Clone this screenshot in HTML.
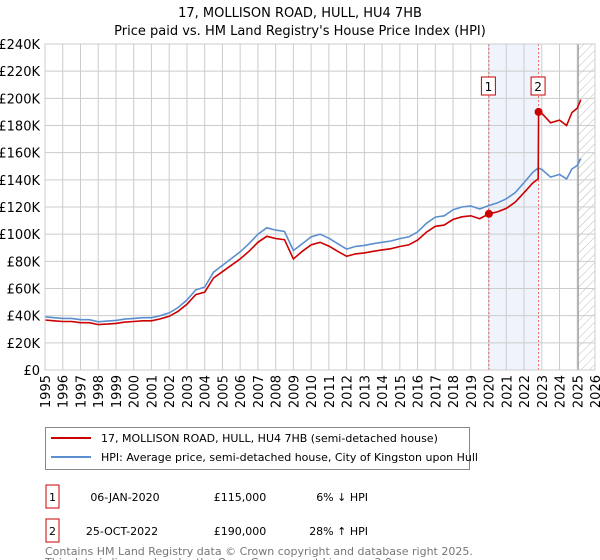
<!DOCTYPE html>
<html><head><meta charset="utf-8"><style>
body{margin:0;background:#fff;font-family:"DejaVu Sans","Liberation Sans",sans-serif;}
svg{display:block}
</style></head><body>
<svg id="c" width="600" height="560" xmlns="http://www.w3.org/2000/svg">
<defs><pattern id="hatch" width="6" height="6" patternUnits="userSpaceOnUse" patternTransform="rotate(45)"><line x1="0" y1="0" x2="0" y2="6" stroke="#bbb" stroke-width="1"/></pattern></defs>
<text x="300" y="17" text-anchor="middle" font-size="13">17, MOLLISON ROAD, HULL, HU4 7HB</text>
<text x="300" y="35" text-anchor="middle" font-size="13">Price paid vs. HM Land Registry's House Price Index (HPI)</text>
<g id="plot"></g>
<g>
<rect x="45.5" y="427.5" width="424" height="42" fill="#fff" stroke="#888"/>
<line x1="51" y1="438" x2="91" y2="438" stroke="#cc0000" stroke-width="2"/>
<text x="101" y="442" font-size="11">17, MOLLISON ROAD, HULL, HU4 7HB (semi-detached house)</text>
<line x1="51" y1="457" x2="91" y2="457" stroke="#5b8fd0" stroke-width="2"/>
<text x="101" y="461" font-size="11">HPI: Average price, semi-detached house, City of Kingston upon Hull</text>
</g>
<g font-size="11">
<rect x="46" y="485" width="13" height="23" fill="#fff" stroke="#cc0000"/>
<text x="52.5" y="501" text-anchor="middle">1</text>
<text x="125" y="501" text-anchor="middle">06-JAN-2020</text>
<text x="240" y="501" text-anchor="middle">£115,000</text>
<text x="368" y="501" text-anchor="end">6% ↓ HPI</text>
<rect x="46" y="519" width="13" height="23" fill="#fff" stroke="#cc0000"/>
<text x="52.5" y="535" text-anchor="middle">2</text>
<text x="122" y="535" text-anchor="middle">25-OCT-2022</text>
<text x="240" y="535" text-anchor="middle">£190,000</text>
<text x="368" y="535" text-anchor="end">28% ↑ HPI</text>
</g>
<text x="45" y="555" font-size="11" fill="#777">Contains HM Land Registry data © Crown copyright and database right 2025.</text>
<text x="45" y="566" font-size="11" fill="#777">This data is licensed under the Open Government Licence v3.0.</text>
</svg>
<script>
const hpiDates=[1995,1995.5,1996,1996.5,1997,1997.5,1998,1998.5,1999,1999.5,2000,2000.5,2001,2001.5,2002,2002.5,2003,2003.5,2004,2004.5,2005,2005.5,2006,2006.5,2007,2007.5,2008,2008.5,2009,2009.5,2010,2010.5,2011,2011.5,2012,2012.5,2013,2013.5,2014,2014.5,2015,2015.5,2016,2016.5,2017,2017.5,2018,2018.5,2019,2019.5,2020,2020.5,2021,2021.5,2022,2022.5,2022.8,2023,2023.5,2024,2024.4,2024.7,2025,2025.2];
const hpiValues=[39.2,38.5,38,38,37,37,35.5,36,36.5,37.5,38,38.5,38.5,40,42,46,51.5,59,61,72,77,82,87,93,100,104.7,103,102,88,93,98,100,97,93,89,91,91.7,93,94,95,96.7,98,101.7,108,112.6,113.5,118,120,120.7,118.5,121,123,126,130.5,138,145.6,148.7,147.6,142,144,140.6,148,150.6,155.6];
const priceDates=[1995,1995.5,1996,1996.5,1997,1997.5,1998,1998.5,1999,1999.5,2000,2000.5,2001,2001.5,2002,2002.5,2003,2003.5,2004,2004.5,2005,2005.5,2006,2006.5,2007,2007.5,2008,2008.5,2009,2009.5,2010,2010.5,2011,2011.5,2012,2012.5,2013,2013.5,2014,2014.5,2015,2015.5,2016,2016.5,2017,2017.5,2018,2018.5,2019,2019.5,2020.02,2020.5,2021,2021.5,2022,2022.5,2022.8,2022.82,2023,2023.5,2024,2024.4,2024.7,2025,2025.2];
const priceValues=[36.8,36.2,35.7,35.7,34.8,34.8,33.4,33.8,34.3,35.3,35.7,36.2,36.2,37.6,39.5,43.2,48.4,55.5,57.3,67.7,72.4,77.1,81.8,87.4,94,98.4,96.8,95.9,81.7,87.4,92.1,94,91.2,87.4,83.7,85.5,86.2,87.4,88.4,89.3,90.9,92.1,95.6,101.5,105.8,106.7,110.9,112.8,113.5,111.4,115,116.4,119,123.5,130.5,137.8,140.7,190,189,182,184,180,189.5,192.8,199];
const saleDates=[2020.02,2022.82];
const saleValues=[115,190];
const saleLabels=["1","2"];
const yTicks=[0,20,40,60,80,100,120,140,160,180,200,220,240];
const xYears=[1995,1996,1997,1998,1999,2000,2001,2002,2003,2004,2005,2006,2007,2008,2009,2010,2011,2012,2013,2014,2015,2016,2017,2018,2019,2020,2021,2022,2023,2024,2025,2026];
const L=45,R=595,T=44,B=370;
const sx=d=>L+(d-1995)/31*(R-L);
const sy=v=>B-v/240*(B-T);
const NS="http://www.w3.org/2000/svg";
const g=document.getElementById('plot');
function mk(tag,attrs,parent){const e=document.createElementNS(NS,tag);for(const k in attrs)e.setAttribute(k,attrs[k]);(parent||g).appendChild(e);return e;}
let e=mk('rect',{x:sx(saleDates[0]),y:T,width:sx(saleDates[1])-sx(saleDates[0]),height:B-T,fill:'#eef3fc'});


e=mk('rect',{x:sx(2025.05),y:T,width:R-sx(2025.05),height:B-T,fill:'url(#hatch)'});


yTicks.forEach(t=>{
 let l=mk('line',{x1:L,x2:R,y1:sy(t),y2:sy(t),stroke:'#ccc'});
 
 
 let tx=mk('text',{x:L-5,y:sy(t)+5,'text-anchor':'end','font-size':13});
 
 
 tx.textContent=t===0?'£0':'£'+t+'K';
});
xYears.forEach(y=>{
 let l=mk('line',{x1:sx(y),x2:sx(y),y1:T,y2:B,stroke:'#ccc'});
 
 
 let tx=mk('text',{x:0,y:0,'text-anchor':'end','font-size':13,transform:`translate(${sx(y)+5},${B+5}) rotate(-90)`});
 
 
 tx.textContent=y;
});
e=mk('line',{x1:sx(2025.05),x2:sx(2025.05),y1:T,y2:B,stroke:'#888'});


saleDates.forEach((d,i)=>{
 let l=mk('line',{x1:sx(d),x2:sx(d),y1:T,y2:B,stroke:'#e66','stroke-dasharray':'2,2'});
 
 
 let r=mk('rect',{x:sx(d)-7.5,y:77,width:14,height:18,fill:'#fff',stroke:'#cc0000'});
 
 
 let t=mk('text',{x:sx(d)-0.5,y:91,'text-anchor':'middle','font-size':12});
 
 
 t.textContent=saleLabels[i];
});
const pts=(ds,vs)=>ds.map((d,i)=>sx(d).toFixed(1)+','+sy(vs[i]).toFixed(1)).join(' ');
e=mk('polyline',{points:pts(hpiDates,hpiValues),fill:'none',stroke:'#5b8fd0','stroke-width':1.6});


e=mk('polyline',{points:pts(priceDates,priceValues),fill:'none',stroke:'#cc0000','stroke-width':1.6});


saleDates.forEach((d,i)=>{
 let c=mk('circle',{cx:sx(d),cy:sy(saleValues[i]),r:4,fill:'#cc0000'});
 
 
});
e=mk('rect',{x:L,y:T,width:R-L,height:B-T,fill:'none',stroke:'#ccc'});


</script>
</body></html>
